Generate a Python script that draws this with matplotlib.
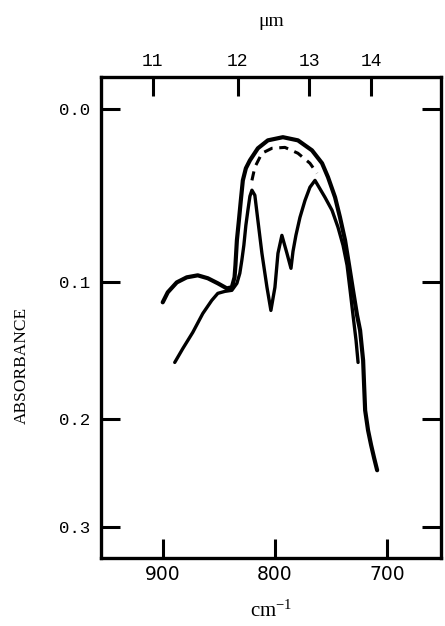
import numpy as np
import matplotlib
matplotlib.use('Agg')
import matplotlib.pyplot as plt

# wavenumber (cm-1) / absorbance
outer_wn = [900, 895.5, 887.5, 878.6, 868.8, 859.8, 850.9, 842.9, 838.4, 836.0,
            835.2, 833.9, 832.1, 830.4, 828.6, 825.9, 822.3, 815.2, 806.3, 792.9,
            779.5, 767.0, 758.0, 752.7, 746.4, 742.0, 737.5, 733.9, 730.4, 726.8,
            724.1, 721.4, 720.5, 719.6, 717.0, 714.3, 711.6, 708.9]
outer_abs = [0.1137, 0.1070, 0.1005, 0.0972, 0.0959, 0.0978, 0.1011, 0.1044, 0.1037,
             0.0972, 0.0895, 0.0738, 0.0617, 0.0500, 0.0385, 0.0317, 0.0273, 0.0207,
             0.0164, 0.0147, 0.0164, 0.0218, 0.0289, 0.0367, 0.0482, 0.0600, 0.0738,
             0.0895, 0.1057, 0.1225, 0.1330, 0.1547, 0.1739, 0.1933, 0.2098, 0.2223,
             0.2337, 0.2447]

inner_wn = [889.3, 882.1, 873.2, 864.3, 856.3, 850.9, 844.6, 838.4, 833.9, 831.3,
            829.5, 827.7, 825.9, 824.1, 822.3, 820.5, 817.9, 815.2, 811.6, 807.1,
            803.6, 800.0, 797.3, 793.8, 789.3, 785.7, 783.9, 781.3, 777.7, 773.2,
            768.8, 764.3, 755.4, 749.1, 743.8, 739.3, 735.7, 733.0, 730.4, 727.7,
            725.9]
inner_abs = [0.1562, 0.1460, 0.1344, 0.1213, 0.1124, 0.1077, 0.1064, 0.1057, 0.1011,
             0.0946, 0.0863, 0.0769, 0.0647, 0.0558, 0.0476, 0.0441, 0.0470, 0.0617,
             0.0819, 0.1037, 0.1192, 0.1037, 0.0819, 0.0708, 0.0819, 0.0914, 0.0807,
             0.0708, 0.0600, 0.0500, 0.0424, 0.0385, 0.0482, 0.0558, 0.0659, 0.0769,
             0.0895, 0.1057, 0.1225, 0.1402, 0.1562]

dash_wn = [820.5, 817.9, 811.6, 802.7, 791.1, 779.5, 768.8, 762.5]
dash_abs = [0.0385, 0.0311, 0.0234, 0.0207, 0.0202, 0.0234, 0.0289, 0.0345]

x_ticks = [900, 800, 700]
y_ticks = [0.0, 0.1, 0.2, 0.3]
um_ticks = [11, 12, 13, 14]


# chart paper is linear in transmittance, labelled in absorbance
def fwd(a):
    return 1 - 10 ** (-np.asarray(a, dtype=float))


def inv(t):
    t = np.clip(np.asarray(t, dtype=float), -10, 0.999999)
    return -np.log10(1 - t)


def wn2um(x):
    x = np.asarray(x, dtype=float)
    return 1e4 / np.where(x == 0, 1e-9, x)


fig = plt.figure(figsize=(4.45, 6.26), dpi=100)
ax = fig.add_axes([0.227, 0.1086, 0.764, 0.768])

ax.plot(outer_wn, outer_abs, color='black', lw=3.0, solid_capstyle='round',
        solid_joinstyle='round')
ax.plot(inner_wn, inner_abs, color='black', lw=2.4, solid_capstyle='round',
        solid_joinstyle='round')
ax.plot(dash_wn, dash_abs, color='black', lw=2.2, dashes=(3, 2.2))

ax.set_yscale('function', functions=(fwd, inv))
ax.set_xlim(955, 652)
ax.set_ylim(0.333, -0.0163)

ax.set_xticks(x_ticks)
ax.set_xticklabels([str(v) for v in x_ticks], fontsize=13.5, family='DejaVu Sans')
ax.set_yticks(y_ticks)
ax.set_yticklabels(['%.1f' % v for v in y_ticks], fontsize=12.5, family='Liberation Mono')
ax.yaxis.set_minor_locator(plt.NullLocator())
ax.tick_params(axis='x', direction='in', length=14, width=2.2, pad=5, top=False)
ax.tick_params(axis='y', direction='in', length=14, width=2.2, pad=8, right=True)

for s in ax.spines.values():
    s.set_linewidth(2.4)

top = ax.secondary_xaxis('top', functions=(wn2um, wn2um))
top.set_xticks(um_ticks)
top.set_xticklabels([str(v) for v in um_ticks], fontsize=13, family='Liberation Mono')
top.tick_params(direction='in', length=14, width=2.2, pad=5)
top.set_xlabel('\u03bcm', fontsize=14, family='Liberation Serif', labelpad=20)

ax.set_xlabel(r'$\mathregular{cm^{-1}}$', fontsize=15, family='Liberation Serif', labelpad=12)
ax.set_ylabel('ABSORBANCE', fontsize=12.5, family='Liberation Serif')
ax.yaxis.set_label_coords(-0.21, 0.40)

fig.savefig('out.png', dpi=100)
